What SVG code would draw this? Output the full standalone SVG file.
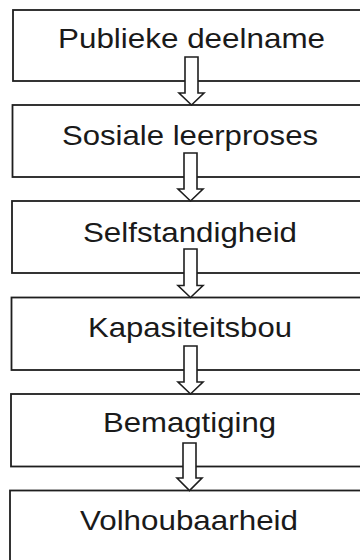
<svg xmlns="http://www.w3.org/2000/svg" width="360" height="560" viewBox="0 0 360 560">
<style>
.box{fill:#fff;stroke:#1e1e1e;stroke-width:1.8}
.lbl{font-family:"Liberation Sans",Arial,sans-serif;font-size:28px;fill:#1a1a1a;text-anchor:middle}
.arr{fill:#fff;stroke:#1e1e1e;stroke-width:1.6;stroke-linejoin:miter}
</style>
<rect width="360" height="560" fill="#fff"/>
<g id="n1"><rect class="box" x="13" y="10" width="360" height="71"/><text class="lbl" x="191.5" y="48" textLength="267" lengthAdjust="spacingAndGlyphs">Publieke deelname</text></g>
<g id="n2"><rect class="box" x="12.5" y="105" width="360" height="72"/><text class="lbl" x="190" y="145" textLength="256" lengthAdjust="spacingAndGlyphs">Sosiale leerproses</text></g>
<g id="n3"><rect class="box" x="12" y="201" width="360" height="72"/><text class="lbl" x="190" y="242" textLength="214" lengthAdjust="spacingAndGlyphs">Selfstandigheid</text></g>
<g id="n4"><rect class="box" x="11.5" y="297.5" width="360" height="72.5"/><text class="lbl" x="190" y="337" textLength="204" lengthAdjust="spacingAndGlyphs">Kapasiteitsbou</text></g>
<g id="n5"><rect class="box" x="11" y="394" width="360" height="72.5"/><text class="lbl" x="189.5" y="432" textLength="173" lengthAdjust="spacingAndGlyphs">Bemagtiging</text></g>
<g id="n6"><rect class="box" x="10" y="490.5" width="360" height="80"/><text class="lbl" x="189" y="530" textLength="218" lengthAdjust="spacingAndGlyphs">Volhoubaarheid</text></g>
<g id="connectors">
<path class="arr" d="M185,57 H198 V93 H204 L191.5,105 L179,93 H185 Z"/>
<path class="arr" d="M184,153 H197 V189 H203 L190.5,201 L178,189 H184 Z"/>
<path class="arr" d="M184,249 H197 V285.5 H203 L190.5,297.5 L178,285.5 H184 Z"/>
<path class="arr" d="M184,346 H197 V382 H203 L190.5,394 L178,382 H184 Z"/>
<path class="arr" d="M183,443 H196 V478 H202 L189.5,490.5 L177,478 H183 Z"/>
</g>
</svg>
